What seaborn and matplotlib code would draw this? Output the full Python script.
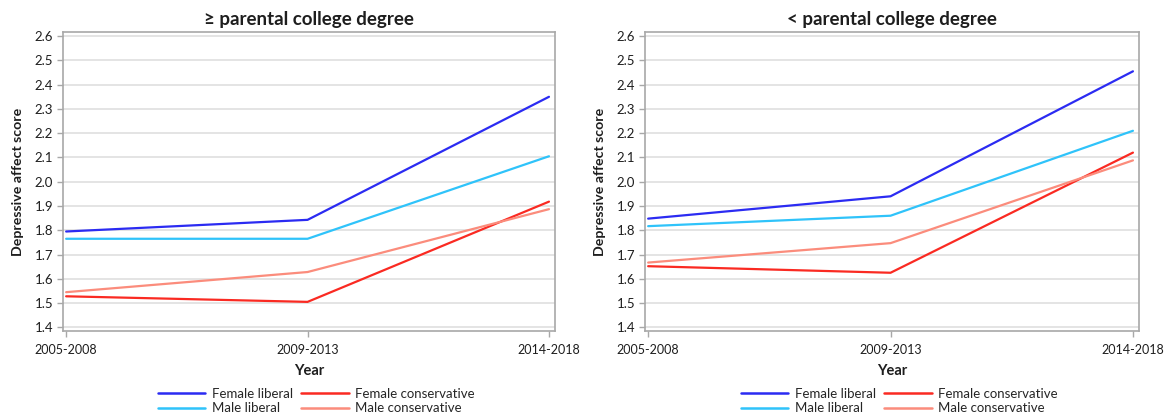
import matplotlib
matplotlib.use("Agg")
import matplotlib.pyplot as plt
import seaborn as sns
import pandas as pd

periods = ["2005-2008", "2009-2013", "2014-2018"]
groups = ["Female liberal", "Male liberal", "Female conservative", "Male conservative"]

# >= parental college degree
hi_female_liberal = [1.795, 1.843, 2.350]
hi_male_liberal = [1.765, 1.765, 2.105]
hi_female_conservative = [1.528, 1.505, 1.918]
hi_male_conservative = [1.545, 1.628, 1.887]

# < parental college degree
lo_female_liberal = [1.848, 1.940, 2.455]
lo_male_liberal = [1.817, 1.860, 2.210]
lo_female_conservative = [1.652, 1.625, 2.120]
lo_male_conservative = [1.667, 1.747, 2.088]

yticks = [1.4, 1.5, 1.6, 1.7, 1.8, 1.9, 2.0, 2.1, 2.2, 2.3, 2.4, 2.5, 2.6]
titles = ["\u2265 parental college degree", "< parental college degree"]

colors = {
    "Female liberal": "#2b2bf2",
    "Male liberal": "#2fc3fa",
    "Female conservative": "#fa2a22",
    "Male conservative": "#fb8c7c",
}


def make_df(fl, ml, fc, mc):
    rows = []
    for g, vals in [("Female liberal", fl), ("Male liberal", ml),
                    ("Female conservative", fc), ("Male conservative", mc)]:
        for i, v in enumerate(vals):
            rows.append({"x": i, "Period": periods[i], "Group": g, "Score": v})
    return pd.DataFrame(rows)


dfs = [
    make_df(hi_female_liberal, hi_male_liberal, hi_female_conservative, hi_male_conservative),
    make_df(lo_female_liberal, lo_male_liberal, lo_female_conservative, lo_male_conservative),
]

sns.set_theme(style="white")
plt.rcParams["font.family"] = ["Lato", "DejaVu Sans"]

fig = plt.figure(figsize=(11.7, 4.2), dpi=100)
axes_pos = [
    [63 / 1170, 1 - 331 / 420, (555 - 63) / 1170, (331 - 32) / 420],
    [645 / 1170, 1 - 331 / 420, (1139 - 645) / 1170, (331 - 32) / 420],
]
txt = "#1e1e1e"

for k in range(2):
    ax = fig.add_axes(axes_pos[k])
    sns.lineplot(data=dfs[k], x="x", y="Score", hue="Group", hue_order=groups,
                 palette=colors, linewidth=1.6, ax=ax, legend=False, zorder=3)
    ax.set_xlim(-0.013, 2.025)
    ax.set_ylim(1.385, 2.617)
    ax.set_xticks(range(len(periods)))
    ax.set_xticklabels(periods, fontsize=9, color=txt)
    ax.set_yticks(yticks)
    ax.set_yticklabels([f"{v:.1f}" for v in yticks], fontsize=9.5, color=txt)
    ax.yaxis.grid(True, color="#dcdcdc", linewidth=1.1, zorder=0)
    ax.xaxis.grid(False)
    for s in ax.spines.values():
        s.set_color("#a8a8a8")
        s.set_linewidth(1.2)
    ax.tick_params(axis="both", which="both", length=4, width=1, color="#a8a8a8",
                   bottom=True, left=True, pad=3)
    ax.tick_params(axis="x", pad=5)
    ax.set_xlabel("Year", fontsize=10.5, fontweight="bold", labelpad=6, color=txt)
    ax.set_ylabel("Depressive affect score", fontsize=10.2, fontweight="bold",
                  labelpad=8, color=txt)
    ax.set_title(titles[k], fontsize=13.5, fontweight="bold", pad=5, color=txt)

    handles = [plt.Line2D([], [], color=colors[g], linewidth=1.8) for g in groups]
    ax.legend(handles, groups, loc="upper center", bbox_to_anchor=(0.515, -0.19),
              ncol=2, frameon=False, fontsize=9.5, handlelength=3.6,
              handletextpad=0.5, columnspacing=0.6, labelspacing=0.2,
              borderaxespad=0, borderpad=0)

fig.savefig("out.png", dpi=100)
